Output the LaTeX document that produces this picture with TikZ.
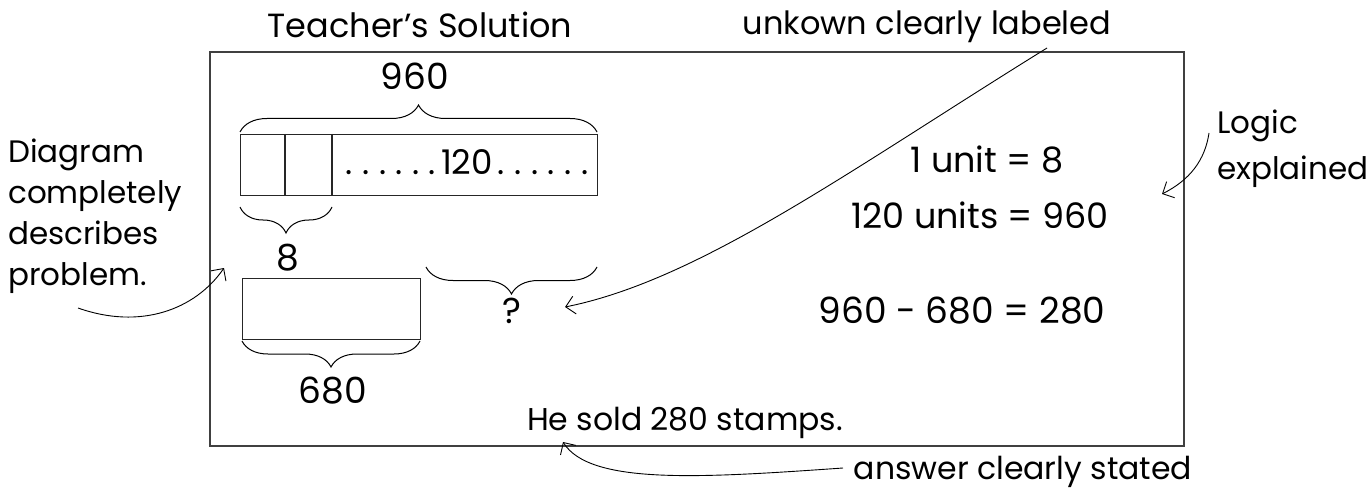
\documentclass[tikz,border=0pt]{standalone}
\usepackage{fontspec}
\setmainfont{Poppins}
\usetikzlibrary{arrows.meta,decorations.pathreplacing}
\newcommand\dotrow{.\kern9.5pt.\kern9.5pt.\kern9.5pt.\kern9.5pt.\kern9.5pt.}
\begin{document}
\begin{tikzpicture}[x=1pt,y=-1pt,
  hand/.style={font=\fontsize{32}{40}\selectfont, inner sep=0pt, anchor=base},
  num/.style={font=\fontsize{36}{40}\selectfont, inner sep=0pt, anchor=base},
  frame/.style={draw=black!75, line width=1.3pt},
  bar/.style={draw=black!85, line width=1.1pt, inner sep=0pt, anchor=north west},
  brc/.style={draw, line width=1pt, decorate, decoration={brace, amplitude=#1}},
  note/.style={-{Straight Barb[length=9pt,width=18pt]}, line width=0.9pt}
]
\useasboundingbox (0,0) rectangle (1370,489);
% frame
\draw[frame] (210,52) rectangle (1184,446);
% top bar
\node[bar, minimum width=357pt, minimum height=61pt] (topbar) at (240,134) {};
\draw[bar] (285,134) -- (285,195);
\draw[bar] (332,134) -- (332,195);
\node[num, font=\fontsize{34}{40}\selectfont] (n120) at (467,175) {\dotrow\kern5pt 120\kern5pt\dotrow};
% lower bar
\node[bar, minimum width=178pt, minimum height=61pt] (lowbar) at (242,278) {};
% braces
\draw[brc=27] (240,132) -- (597,132);
\draw[brc=26] (332,207) -- (240,207);
\draw[brc=26] (420,341) -- (242,341);
\draw[brc=27] (597,267) -- (426,267);
% labels
\node[num] (n960) at (415,90) {960};
\node[num] (n8) at (288,270) {8};
\node[num] (n680) at (333,403) {680};
\node[num] (q) at (512,323) {?};
\node[num, font=\fontsize{35}{40}\selectfont] (eq1) at (987,173) {1 unit = 8};
\node[num, font=\fontsize{35}{40}\selectfont] (eq2) at (980,228) {120 units = 960};
\node[num] (eq3) at (962,323) {960 - 680 = 280};
\node[hand, font=\fontsize{33.5}{40}\selectfont] (title) at (420,38) {Teacher's Solution};
\node[hand] (unk) at (927,35) {unkown clearly labeled};
\node[hand, font=\fontsize{31.5}{40}\selectfont] (ans) at (685,430) {He sold 280 stamps.};
\node[hand, font=\fontsize{31.5}{40}\selectfont] (ansnote) at (1023,479) {answer clearly stated};
\node[hand, align=left, anchor=base west, font=\fontsize{31}{47}\selectfont] (logic) at (1217,180) {Logic\\explained};
\node[hand, align=left, anchor=base west, font=\fontsize{31}{41}\selectfont] (diag) at (8,285) {Diagram\\completely\\describes\\problem.};
% arrow endpoints
\coordinate (a1s) at (1047,48);
\coordinate (a1e) at (565,307);
\coordinate (a2s) at (1209,133);
\coordinate (a2e) at (1162,194);
\coordinate (a3s) at (78,308);
\coordinate (a3e) at (224,268);
\coordinate (a4s) at (843,468);
\coordinate (a4e) at (563,442);
\draw[note] (a1s) .. controls (850,170) and (700,280) .. (a1e);
\draw[note] (a2s) .. controls (1205,160) and (1190,180) .. (a2e);
\draw[note] (a3s) .. controls (140,330) and (195,310) .. (a3e);
\draw[note] (a4s) .. controls (700,478) and (590,485) .. (a4e);
\end{tikzpicture}
\end{document}
